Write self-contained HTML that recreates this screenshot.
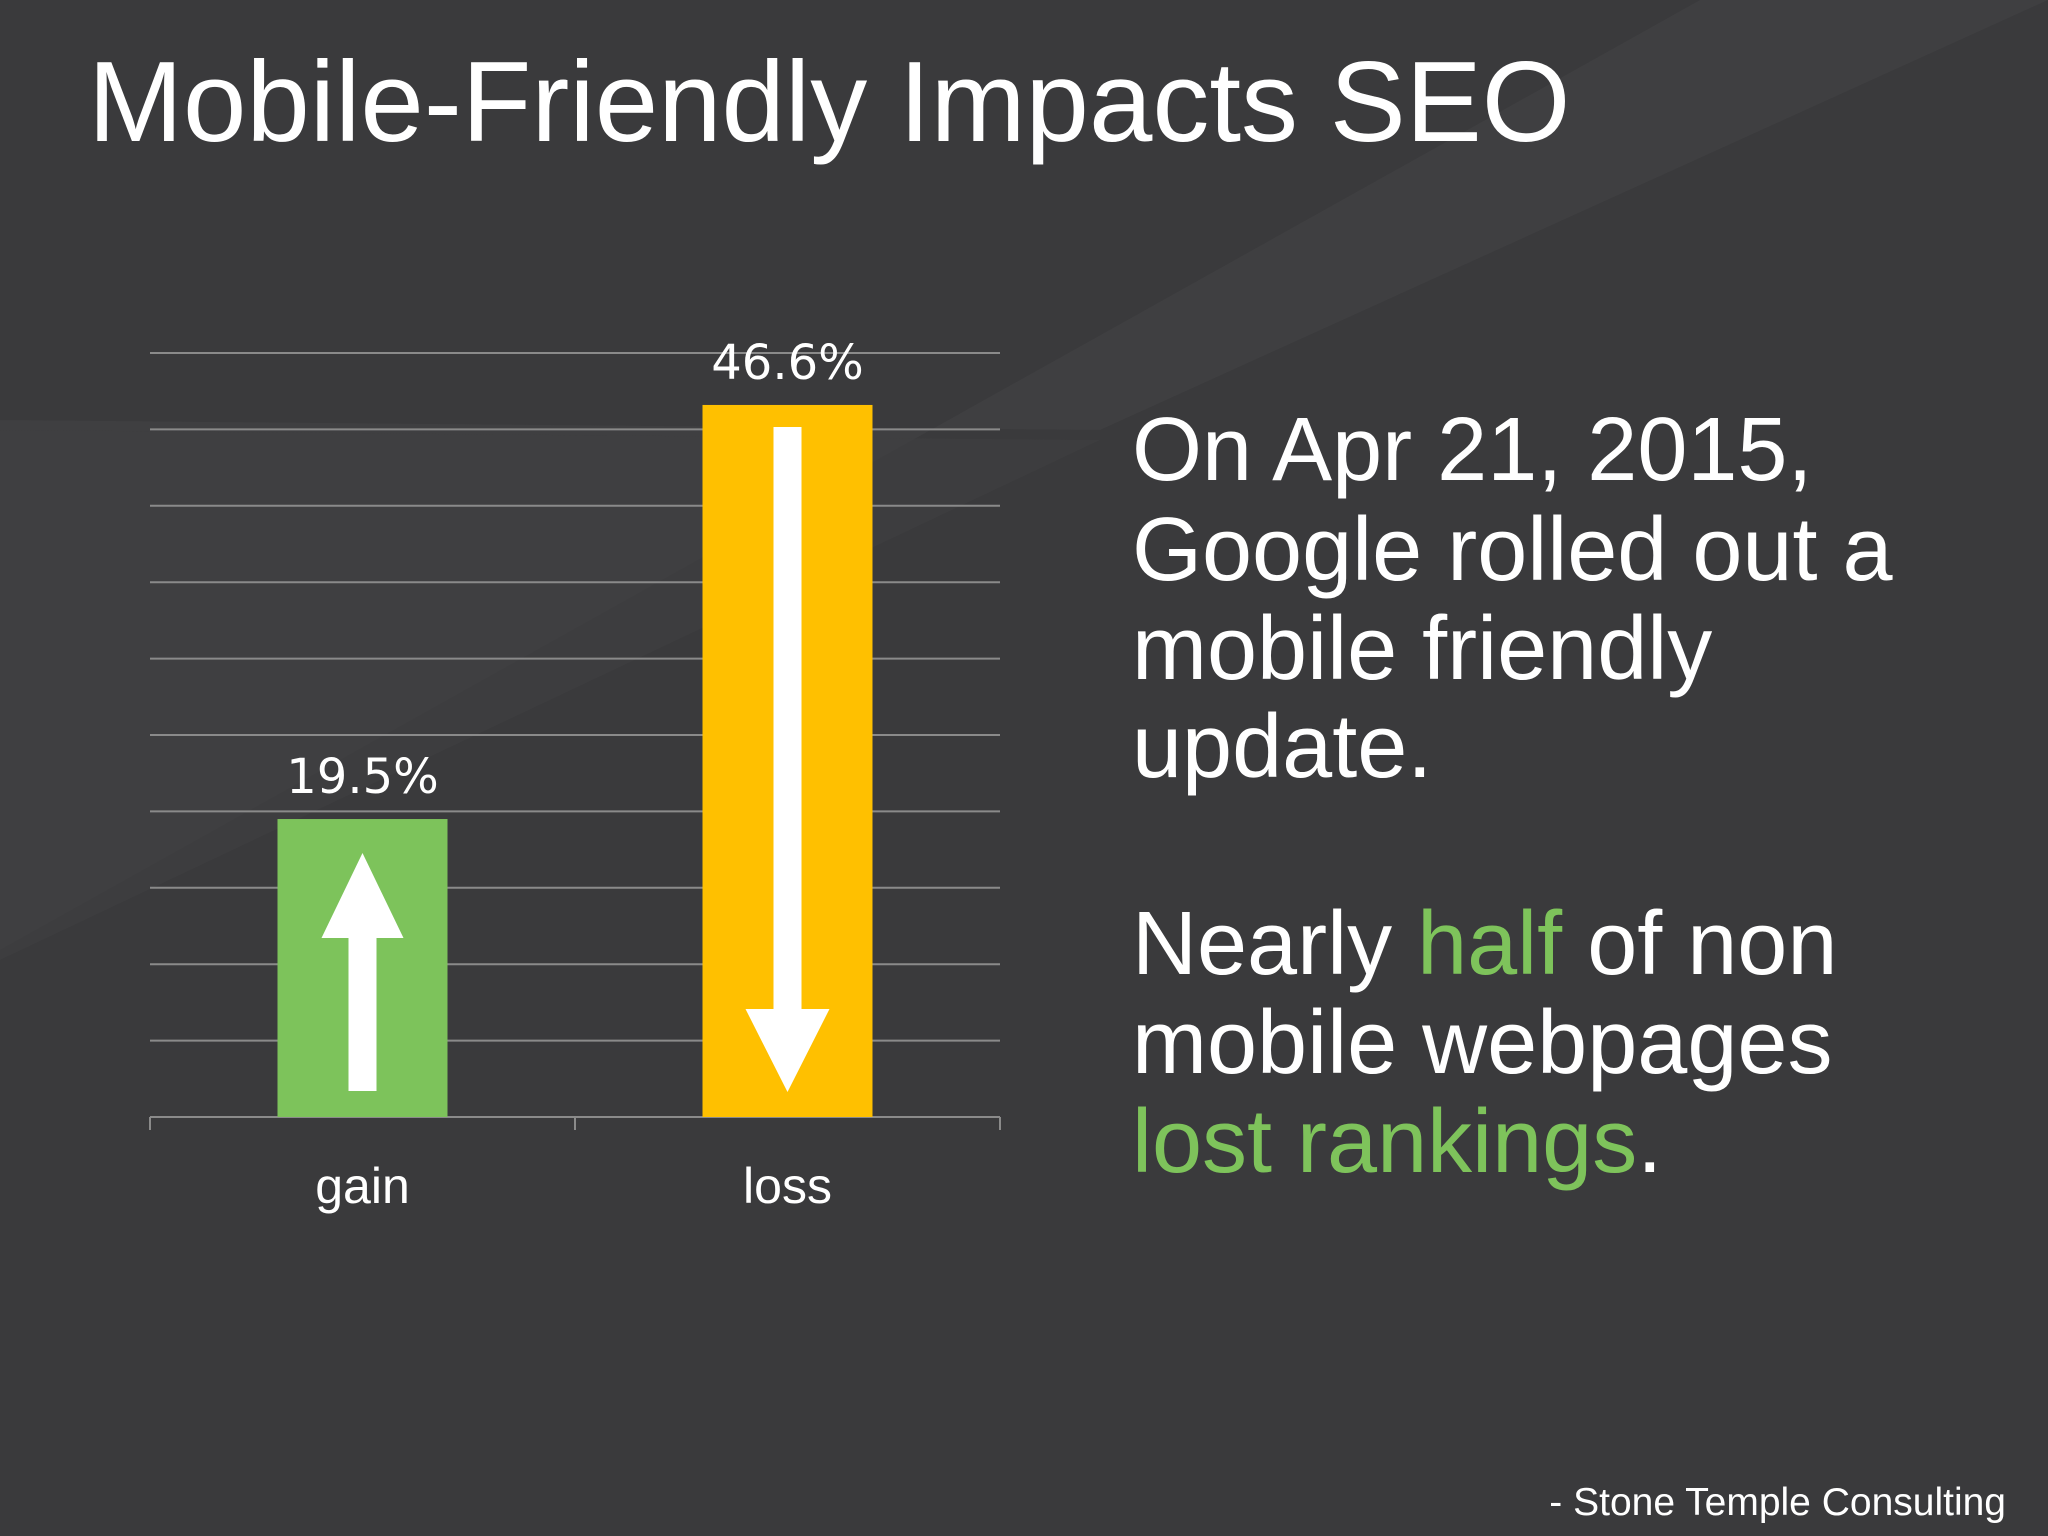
<!DOCTYPE html>
<html><head><meta charset="utf-8"><style>
html,body{margin:0;padding:0;background:#3a3a3c;}
svg{display:block;font-family:"Liberation Sans",sans-serif;}
</style></head><body>
<svg id="slide" width="2048" height="1536" viewBox="0 0 2048 1536" xmlns="http://www.w3.org/2000/svg">
<rect x="0" y="0" width="2048" height="1536" fill="#3a3a3c"/>
<polygon points="0,420 1100,430 2048,0 2048,0 1700,0 0,950" fill="#444446" opacity="0.55"/>
<polygon points="0,430 1100,440 0,960" fill="#3f3f41" opacity="0.6"/>
<text x="88" y="141" font-size="114" fill="#ffffff">Mobile-Friendly Impacts SEO</text>
<g id="chart"></g>
<g font-size="90" fill="#ffffff">
<text x="1132" y="480">On Apr 21, 2015,</text>
<text x="1132" y="580">Google rolled out a</text>
<text x="1132" y="679">mobile friendly</text>
<text x="1132" y="777">update.</text>
<text x="1132" y="974">Nearly <tspan fill="#7ec35b">half</tspan> of non</text>
<text x="1132" y="1073">mobile webpages</text>
<text x="1132" y="1172"><tspan fill="#7ec35b">lost rankings</tspan>.</text>
</g>
<text x="2006" y="1515" font-size="39" fill="#ffffff" text-anchor="end">- Stone Temple Consulting</text>
</svg>
<script>
const categories = ["gain", "loss"];
const values = [19.5, 46.6];
const valueLabels = ["19.5%", "46.6%"];
const barColors = ["#7dc35b", "#ffc000"];
const yMax = 50;
const gridSteps = 10;

const NS = "http://www.w3.org/2000/svg";
const chart = document.getElementById("chart");
const plotLeft = 150, plotRight = 1000, plotTop = 353, plotBottom = 1117;
const bandW = (plotRight - plotLeft) / categories.length;
const barW = 170;
function yScale(v){ return plotBottom - (v / yMax) * (plotBottom - plotTop); }
function xCenter(i){ return plotLeft + bandW * (i + 0.5); }
function mk(tag, attrs){ const e = document.createElementNS(NS, tag); for (const k in attrs) e.setAttribute(k, attrs[k]); chart.appendChild(e); return e; }

for (let g = 1; g <= gridSteps; g++) {
  const y = yScale(yMax * g / gridSteps);
  const l = mk("line", {x1: plotLeft, x2: plotRight, y1: y, y2: y, stroke: "#8a8a8a", "stroke-width": 2});
  
  
}
const axis = mk("line", {x1: plotLeft, x2: plotRight, y1: plotBottom, y2: plotBottom, stroke: "#8a8a8a", "stroke-width": 2});


for (let i = 0; i <= categories.length; i++) {
  const x = plotLeft + bandW * i;
  const t = mk("line", {x1: x, x2: x, y1: plotBottom, y2: plotBottom + 13, stroke: "#8a8a8a", "stroke-width": 2});
  
  
}

categories.forEach((c, i) => {
  const cx = xCenter(i);
  const top = yScale(values[i]);
  const bar = mk("rect", {x: cx - barW / 2, y: top, width: barW, height: plotBottom - top, fill: barColors[i]});
  
  
  let arrow;
  if (i === 0) {
    const tip = top + 34, headB = top + 119, bot = plotBottom - 26;
    arrow = mk("polygon", {fill: "#ffffff", points:
      `${cx},${tip} ${cx+41},${headB} ${cx+14},${headB} ${cx+14},${bot} ${cx-14},${bot} ${cx-14},${headB} ${cx-41},${headB}`});
    
  } else {
    const t0 = top + 22, headB = plotBottom - 108, tip = plotBottom - 25;
    arrow = mk("polygon", {fill: "#ffffff", points:
      `${cx-14},${t0} ${cx+14},${t0} ${cx+14},${headB} ${cx+42},${headB} ${cx},${tip} ${cx-42},${headB} ${cx-14},${headB}`});
    
  }
  
  const vl = mk("text", {x: cx, y: top - 26, "text-anchor": "middle", "font-size": 48, fill: "#ffffff", "font-family": "DejaVu Sans, Liberation Sans, sans-serif"});
  vl.textContent = valueLabels[i];
  
  
  const cl = mk("text", {x: cx, y: plotBottom + 86, "text-anchor": "middle", "font-size": 50, fill: "#ffffff"});
  cl.textContent = c;
  
  
});
</script>
</body></html>
